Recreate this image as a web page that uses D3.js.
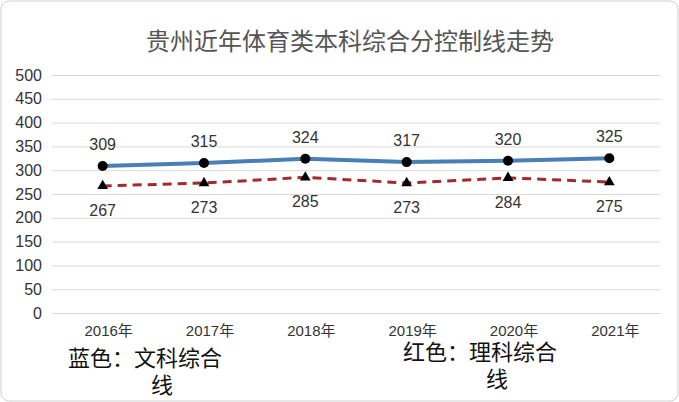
<!DOCTYPE html>
<html><head><meta charset="utf-8">
<script src="https://cdn.jsdelivr.net/npm/d3@7"></script>
<style>body{margin:0;background:#fff}text{font-family:"Liberation Sans","Noto Sans CJK SC",sans-serif}</style>
</head><body><svg id="c" width="679" height="402"></svg>
<script>
var years = ["2016年","2017年","2018年","2019年","2020年","2021年"];
var wenke = [309,315,324,317,320,325];
var like = [267,273,285,273,284,275];
var yTicks = [0,50,100,150,200,250,300,350,400,450,500];

var svg = d3.select("#c");
svg.append("rect").attr("x",1).attr("y",1).attr("width",677).attr("height",400)
  .attr("rx",8).attr("fill","#fff").attr("stroke","#d0d0d0");

var x = d3.scaleBand().domain(years).range([52,660]);
var y = d3.scaleLinear().domain([0,500]).range([313,75]);
var cx = function(d,i){ return x(years[i]) + x.bandwidth()/2; };

svg.append("text").attr("x",350).attr("y",50).attr("text-anchor","middle")
  .attr("font-size",24).attr("fill","#555").text("贵州近年体育类本科综合分控制线走势");

var yAxis = svg.append("g").attr("transform","translate(52,0)")
  .call(d3.axisLeft(y).tickValues(yTicks).tickSize(-608).tickPadding(10));
yAxis.select(".domain").remove();
yAxis.selectAll("line").attr("stroke","#d9d9d9");
yAxis.selectAll("text").attr("font-size",16).attr("fill","#333");

var xAxis = svg.append("g").attr("transform","translate(0,313)")
  .call(d3.axisBottom(x).tickSize(0).tickPadding(12));
xAxis.select(".domain").attr("stroke","#d9d9d9");
xAxis.selectAll("text").attr("font-size",15).attr("fill","#333").attr("dx",6);

var line = d3.line().x(cx).y(function(d){return y(d);});
svg.append("path").datum(wenke).attr("d",line).attr("fill","none")
  .attr("stroke","#4a7fb5").attr("stroke-width",4);
svg.append("path").datum(like).attr("d",line).attr("fill","none")
  .attr("stroke","#a32a2a").attr("stroke-width",3).attr("stroke-dasharray","9,6");

svg.selectAll(".dot").data(wenke).enter().append("circle")
  .attr("cx",cx).attr("cy",function(d){return y(d);}).attr("r",5).attr("fill","#000");
var tri = d3.symbol().type(d3.symbolTriangle).size(50);
svg.selectAll(".tri").data(like).enter().append("path").attr("d",tri)
  .attr("transform",function(d,i){return "translate("+cx(d,i)+","+y(d)+")";}).attr("fill","#000");

svg.selectAll(".lw").data(wenke).enter().append("text")
  .attr("x",cx).attr("y",function(d){return y(d)-16;}).attr("text-anchor","middle")
  .attr("font-size",16).attr("fill","#333").text(function(d){return d;});
svg.selectAll(".ll").data(like).enter().append("text")
  .attr("x",cx).attr("y",function(d){return y(d)+30;}).attr("text-anchor","middle")
  .attr("font-size",16).attr("fill","#333").text(function(d){return d;});

var legend = [["蓝色：文科综合","线",68,366],["红色：理科综合","线",403,360]];
legend.forEach(function(l){
  svg.append("text").attr("x",l[2]).attr("y",l[3]).attr("font-size",22).attr("fill","#111").text(l[0]);
  svg.append("text").attr("x",l[2]+83).attr("y",l[3]+27).attr("font-size",22).attr("fill","#111").text(l[1]);
});
</script></body></html>
